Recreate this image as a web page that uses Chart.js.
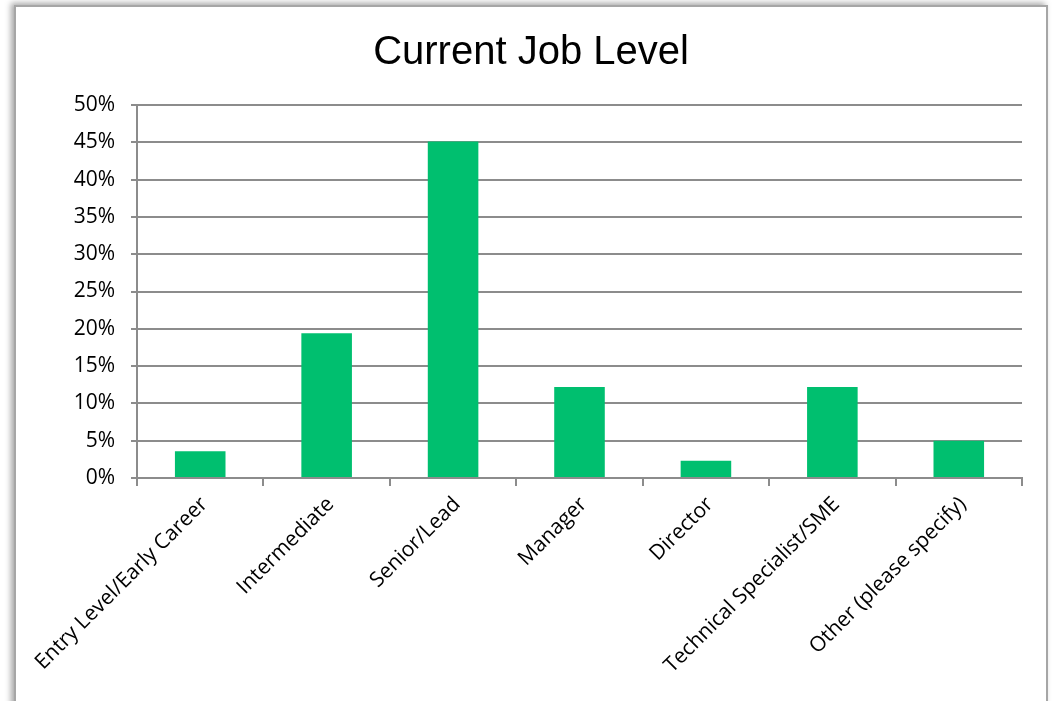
<!DOCTYPE html>
<html>
<head>
<meta charset="utf-8">
<script src="https://cdn.jsdelivr.net/npm/chart.js@4/dist/chart.umd.min.js"></script>
<style>
  body { margin: 0; background: #fff; width: 1054px; height: 701px; overflow: hidden; position: relative; }
  #frame {
    position: absolute; left: 14px; top: 5px; width: 1030px; height: 740px;
    border: 2px solid #a6a6a6; box-shadow: -3px -2px 6px rgba(0,0,0,0.35);
    background: #fff;
  }
  #wrap { position: absolute; left: 0; top: 0; width: 1054px; height: 701px; }
</style>
</head>
<body>
<div id="frame"></div>
<div id="wrap"><canvas id="chart"></canvas></div>
<script>
const categories = [
  "Entry Level/Early Career",
  "Intermediate",
  "Senior/Lead",
  "Manager",
  "Director",
  "Technical Specialist/SME",
  "Other (please specify)",
];
const percentValues = [3.6, 19.4, 45.1, 12.2, 2.3, 12.2, 5.0];
const yTicks = [0, 5, 10, 15, 20, 25, 30, 35, 40, 45, 50];

const BAR_COLOR = "#00bf6f";
const GRID_COLOR = "#8c8c8c";
const LABEL_FONT = "'Open Sans', sans-serif";

const ctx = document.getElementById("chart");

new Chart(ctx, {
  type: "bar",
  data: {
    labels: categories,
    datasets: [
      {
        data: percentValues,
        backgroundColor: BAR_COLOR,
        barPercentage: 0.4,
        categoryPercentage: 1,
      },
    ],
  },
  options: {
    responsive: true,
    maintainAspectRatio: false,
    animation: false,
    layout: { padding: { left: 40, right: 32, top: 0, bottom: 0 } },
    plugins: {
      legend: { display: false },
      tooltip: { enabled: false },
      title: {
        display: true,
        text: "Current Job Level",
        color: "#000",
        font: { family: "'Liberation Sans', Arial, sans-serif", size: 40, weight: "normal" },
        padding: { top: 29, bottom: 28 },
      },
    },
    scales: {
      x: {
        offset: true,
        grid: {
          offset: true,
          drawOnChartArea: false,
          drawTicks: true,
          tickLength: 8,
          color: GRID_COLOR,
          lineWidth: 2,
        },
        border: { display: true, color: GRID_COLOR, width: 2 },
        ticks: {
          minRotation: 45,
          maxRotation: 45,
          autoSkip: false,
          padding: 6,
          labelOffset: 4,
          color: "#000",
          font: { family: LABEL_FONT, size: 21 },
        },
        afterFit: (scale) => {
          scale.height = 701 - 478;
        },
      },
      y: {
        min: 0,
        max: 50,
        afterBuildTicks: (scale) => {
          scale.ticks = yTicks.map((v) => ({ value: v }));
        },
        grid: {
          color: GRID_COLOR,
          lineWidth: 2,
          tickLength: 6,
        },
        border: { display: true, color: GRID_COLOR, width: 2 },
        ticks: {
          padding: 16,
          color: "#000",
          font: { family: LABEL_FONT, size: 21 },
          callback: (v) => v + "%",
        },
        afterFit: (scale) => {
          scale.width = 97;
        },
      },
    },
  },
});
</script>
</body>
</html>
